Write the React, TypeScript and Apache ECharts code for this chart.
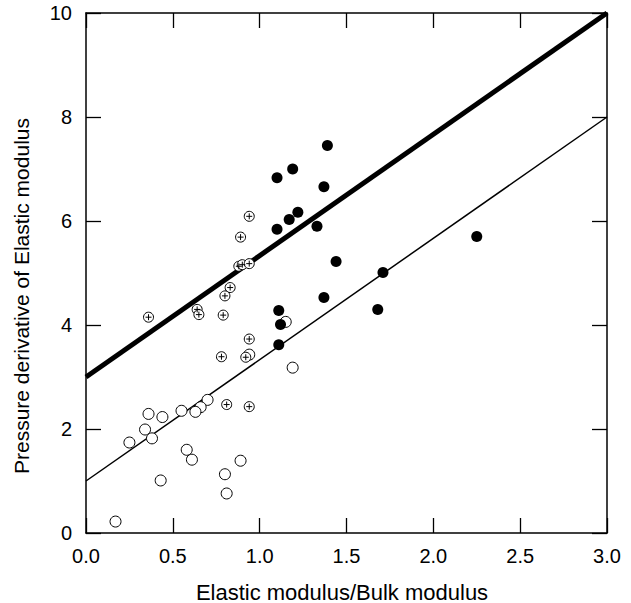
import React, { useEffect, useRef } from "react";
import * as echarts from "echarts";

// Data
const filledPoints: number[][] = [
  [1.39, 7.45], [1.19, 7.0], [1.1, 6.83], [1.37, 6.66], [1.22, 6.17],
  [1.17, 6.03], [1.1, 5.84], [1.33, 5.9], [1.44, 5.22], [2.25, 5.7],
  [1.71, 5.01], [1.68, 4.3], [1.11, 4.28], [1.12, 4.01], [1.37, 4.53],
  [1.11, 3.62],
];

const plusPoints: number[][] = [
  [0.94, 6.09], [0.89, 5.69], [0.88, 5.13], [0.9, 5.16], [0.94, 5.18],
  [0.83, 4.72], [0.8, 4.56], [0.36, 4.15], [0.64, 4.3], [0.65, 4.2],
  [0.79, 4.19], [0.94, 3.73], [0.78, 3.39], [0.92, 3.38], [0.81, 2.47],
  [0.94, 2.43],
];

const openPoints: number[][] = [
  [0.94, 3.43], [1.15, 4.06], [1.19, 3.18], [0.7, 2.56], [0.66, 2.42],
  [0.63, 2.33], [0.55, 2.35], [0.36, 2.29], [0.44, 2.23], [0.34, 1.99],
  [0.38, 1.82], [0.25, 1.74], [0.58, 1.6], [0.61, 1.41], [0.89, 1.39],
  [0.8, 1.13], [0.43, 1.01], [0.81, 0.76], [0.17, 0.22],
];

const upperLine: number[][] = [[0, 3], [3, 10]];
const lowerLine: number[][] = [[0, 1], [3, 8]];

const xRange = { min: 0, max: 3, step: 0.5 };
const yRange = { min: 0, max: 10, step: 2 };

const xTitle = "Elastic modulus/Bulk modulus";
const yTitle = "Pressure derivative of Elastic modulus";

const FONT = "'Liberation Sans', Arial, Helvetica, sans-serif";

export default function App() {
  const ref = useRef<HTMLDivElement>(null);

  useEffect(() => {
    if (!ref.current) return;
    const chart = echarts.init(ref.current, undefined, { renderer: "svg" });

    const axisLine = { show: true, onZero: false, lineStyle: { color: "#000", width: 1.5 } };
    const tick = { show: true, inside: true, length: 15, lineStyle: { color: "#000", width: 1.3 } };

    const baseX = {
      type: "value" as const,
      min: xRange.min,
      max: xRange.max,
      interval: xRange.step,
      splitLine: { show: false },
      axisLine,
      axisTick: tick,
    };
    const baseY = {
      type: "value" as const,
      min: yRange.min,
      max: yRange.max,
      interval: yRange.step,
      splitLine: { show: false },
      axisLine,
      axisTick: tick,
    };

    chart.setOption({
      animation: false,
      backgroundColor: "#fff",
      grid: { left: 86, top: 13, width: 521, height: 520, containLabel: false },
      xAxis: [
        {
          ...baseX,
          position: "bottom",
          axisLabel: {
            show: true,
            margin: 13,
            color: "#000",
            fontSize: 20,
            fontFamily: FONT,
            formatter: (v: number) => v.toFixed(1),
          },
        },
        { ...baseX, position: "top", axisLabel: { show: false } },
      ],
      yAxis: [
        {
          ...baseY,
          position: "left",
          axisLabel: {
            show: true,
            margin: 14,
            color: "#000",
            fontSize: 20,
            fontFamily: FONT,
          },
        },
        { ...baseY, position: "right", axisLabel: { show: false } },
      ],
      graphic: [
        {
          type: "text",
          x: 342,
          y: 592,
          style: {
            text: xTitle,
            fill: "#000",
            font: `22px ${FONT}`,
            align: "center",
            verticalAlign: "middle",
          },
        },
        {
          type: "text",
          x: 21,
          y: 296,
          rotation: Math.PI / 2,
          style: {
            text: yTitle,
            fill: "#000",
            font: `21px ${FONT}`,
            align: "center",
            verticalAlign: "middle",
          },
        },
      ],
      series: [
        {
          type: "line",
          data: upperLine,
          symbol: "none",
          lineStyle: { color: "#000", width: 5 },
          z: 1,
        },
        {
          type: "line",
          data: lowerLine,
          symbol: "none",
          lineStyle: { color: "#000", width: 1.5 },
          z: 1,
        },
        {
          type: "scatter",
          data: openPoints,
          symbol: "circle",
          symbolSize: 11,
          itemStyle: { color: "#fff", borderColor: "#000", borderWidth: 1, opacity: 1 },
          z: 3,
        },
        {
          type: "scatter",
          data: plusPoints,
          symbol: "circle",
          symbolSize: 10,
          itemStyle: { color: "#fff", borderColor: "#000", borderWidth: 1, opacity: 1 },
          z: 4,
        },
        {
          type: "scatter",
          data: plusPoints,
          symbol: "path://M-3,0L3,0M0,-3L0,3",
          symbolSize: 6,
          itemStyle: { color: "none", borderColor: "#000", borderWidth: 1, opacity: 1 },
          z: 5,
        },
        {
          type: "scatter",
          data: filledPoints,
          symbol: "circle",
          symbolSize: 11,
          itemStyle: { color: "#000", opacity: 1 },
          z: 6,
        },
      ],
    });

    return () => chart.dispose();
  }, []);

  return (
    <div
      ref={ref}
      style={{ position: "fixed", left: 0, top: 0, width: 631, height: 603, background: "#fff" }}
    />
  );
}
